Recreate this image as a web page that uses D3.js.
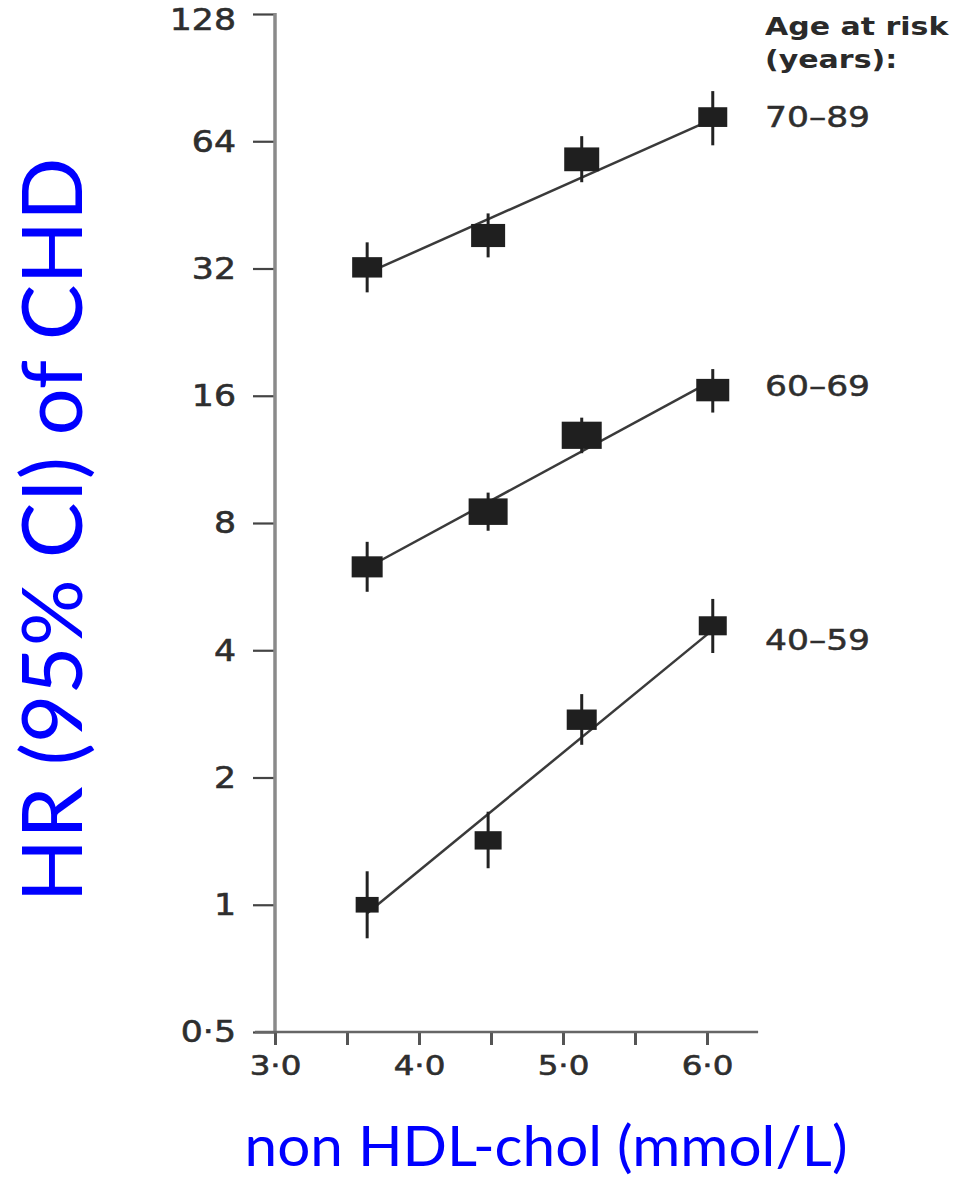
<!DOCTYPE html>
<html>
<head>
<meta charset="utf-8">
<script src="https://cdn.jsdelivr.net/npm/d3@7"></script>
<style>
  html, body { margin: 0; padding: 0; background: #fff; }
  svg { display: block; }
</style>
</head>
<body>
<svg id="chart" width="957" height="1177"></svg>
<script>
// ---------------- data ----------------
const ageGroups = ["70–89", "60–69", "40–59"];
const xValues = [3.64, 4.48, 5.13, 6.04];          // non HDL-chol (mmol/L)
const hr_70_89 = [32.2, 38.3, 58.0, 73.0];
const lo_70_89 = [28.1, 34.0, 51.2, 62.6];
const hi_70_89 = [36.9, 43.2, 65.8, 84.1];
const hr_60_69 = [6.30, 8.51, 12.9, 16.5];
const lo_60_69 = [5.50, 7.67, 11.7, 14.6];
const hi_60_69 = [7.22, 9.44, 14.2, 18.5];
const hr_40_59 = [1.00, 1.42, 2.74, 4.57];
const lo_40_59 = [0.833, 1.22, 2.39, 3.94];
const hi_40_59 = [1.20, 1.66, 3.15, 5.29];
// relative precision weights (marker size)
const w_70_89 = [3.0, 3.4, 3.5, 2.9];
const w_60_69 = [3.1, 3.9, 4.0, 3.3];
const w_40_59 = [2.3, 2.7, 3.0, 2.8];
// fitted regression line end values at first and last x
const fit_70_89 = [31.2, 72.2];
const fit_60_69 = [6.27, 17.4];
const fit_40_59 = [0.955, 4.47];
const yTicks = [0.5, 1, 2, 4, 8, 16, 32, 64, 128];
const xTicks = [3, 3.5, 4, 4.5, 5, 5.5, 6];
const xLabelTicks = [3, 4, 5, 6];
const legendTitle = ["Age at risk", "(years):"];
const yTitle = "HR (95% CI) of CHD";
const xTitle = "non HDL-chol (mmol/L)";

const series = [
  {name: ageGroups[0], hr: hr_70_89, lo: lo_70_89, hi: hi_70_89, w: w_70_89, fit: fit_70_89, labelDy: 10},
  {name: ageGroups[1], hr: hr_60_69, lo: lo_60_69, hi: hi_60_69, w: w_60_69, fit: fit_60_69, labelDy: 6},
  {name: ageGroups[2], hr: hr_40_59, lo: lo_40_59, hi: hi_40_59, w: w_40_59, fit: fit_40_59, labelDy: 24}
];

// ---------------- scales ----------------
const svg = d3.select("#chart");
const x = d3.scaleLinear().domain([3, 6]).range([275, 707]);
const y = d3.scaleLog().base(2).domain([0.5, 128]).range([1032, 14]);
const wScale = d3.scaleLinear().domain([0, 1]).range([0, 10]); // weight -> px width

const dot = s => s.replace(".", "·");
const tickFont = "'DejaVu Sans', Verdana, sans-serif";

// ---------------- axes ----------------
// Y axis
const yAxis = svg.append("g").attr("transform", `translate(${x(3)},0)`)
  .call(d3.axisLeft(y).tickValues(yTicks).tickSize(22)
        .tickFormat(d => dot(d < 1 ? d3.format(".1f")(d) : d3.format("d")(d))));
yAxis.select(".domain").remove();
yAxis.selectAll(".tick line").attr("stroke", "#444").attr("stroke-width", 2.2);
yAxis.selectAll(".tick text")
  .attr("x", null)
  .attr("transform", d => `translate(-39,${d === 128 ? 6 : 0}) scale(1.12,1)`)
  .attr("fill", "#2e2e2e")
  .attr("stroke", "#2e2e2e").attr("stroke-width", 0.6)
  .style("font-family", tickFont)
  .style("font-size", "31px");
yAxis.append("line")
  .attr("x1", 0).attr("x2", 0)
  .attr("y1", y(128) - 1).attr("y2", y(0.5))
  .attr("stroke", "#8a8a8a").attr("stroke-width", 3.5);

// X axis
const xAxis = svg.append("g").attr("transform", `translate(0,${y(0.5)})`)
  .call(d3.axisBottom(x).tickValues(xTicks).tickSize(13)
        .tickFormat(d => xLabelTicks.includes(d) ? dot(d3.format(".1f")(d)) : ""));
xAxis.select(".domain").remove();
xAxis.selectAll(".tick line").attr("stroke", "#555").attr("stroke-width", 3);
xAxis.selectAll(".tick text")
  .attr("y", null)
  .attr("transform", "translate(0,25) scale(1.25,1)")
  .attr("fill", "#2e2e2e")
  .attr("stroke", "#2e2e2e").attr("stroke-width", 0.6)
  .style("font-family", tickFont)
  .style("font-size", "26px");
xAxis.append("line")
  .attr("x1", x(3) - 20).attr("x2", x(6.355))
  .attr("y1", 0).attr("y2", 0)
  .attr("stroke", "#666").attr("stroke-width", 2.5);

// ---------------- series ----------------
const plot = svg.append("g");
series.forEach(s => {
  const g = plot.append("g");
  // regression line
  g.append("line")
    .attr("x1", x(xValues[0])).attr("y1", y(s.fit[0]))
    .attr("x2", x(xValues[xValues.length - 1])).attr("y2", y(s.fit[1]))
    .attr("stroke", "#3a3a3a").attr("stroke-width", 2.5);
  const pts = xValues.map((xv, i) => ({x: xv, hr: s.hr[i], lo: s.lo[i], hi: s.hi[i], w: s.w[i]}));
  // CI bars
  g.selectAll("line.ci").data(pts).enter().append("line").attr("class", "ci")
    .attr("x1", d => x(d.x)).attr("x2", d => x(d.x))
    .attr("y1", d => y(d.hi)).attr("y2", d => y(d.lo))
    .attr("stroke", "#222").attr("stroke-width", 3);
  // boxes
  g.selectAll("rect").data(pts).enter().append("rect")
    .attr("x", d => x(d.x) - wScale(d.w) / 2)
    .attr("y", d => y(d.hr) - wScale(d.w) * 0.34)
    .attr("width", d => wScale(d.w))
    .attr("height", d => wScale(d.w) * 0.68)
    .attr("fill", "#1f1f1f");
  // label
  svg.append("text")
    .attr("transform", `translate(765,${y(s.hr[s.hr.length - 1]) + s.labelDy}) scale(1.19,1)`)
    .attr("fill", "#2e2e2e")
    .attr("stroke", "#2e2e2e").attr("stroke-width", 0.5)
    .style("font-family", tickFont)
    .style("font-size", "29px")
    .text(s.name);
});

// legend title
legendTitle.forEach((t, i) => {
  svg.append("text")
    .attr("transform", `translate(765,${35 + i * 33}) scale(1.2,1)`)
    .attr("fill", "#2a2a2a")
    .style("font-family", tickFont)
    .style("font-weight", "bold")
    .style("font-size", "25px")
    .text(t);
});

// ---------------- axis titles ----------------
svg.append("text")
  .attr("transform", "translate(82,530) rotate(-90)")
  .attr("text-anchor", "middle")
  .attr("fill", "#0000ff")
  .style("font-family", "Lato, 'Open Sans', sans-serif")
  .style("font-size", "84px")
  .attr("textLength", 745)
  .attr("lengthAdjust", "spacingAndGlyphs")
  .text(yTitle);

svg.append("text")
  .attr("x", 546).attr("y", 1166)
  .attr("text-anchor", "middle")
  .attr("fill", "#0000ff")
  .style("font-family", "Lato, 'Open Sans', sans-serif")
  .style("font-size", "56px")
  .attr("textLength", 603)
  .attr("lengthAdjust", "spacingAndGlyphs")
  .text(xTitle);
</script>
</body>
</html>
